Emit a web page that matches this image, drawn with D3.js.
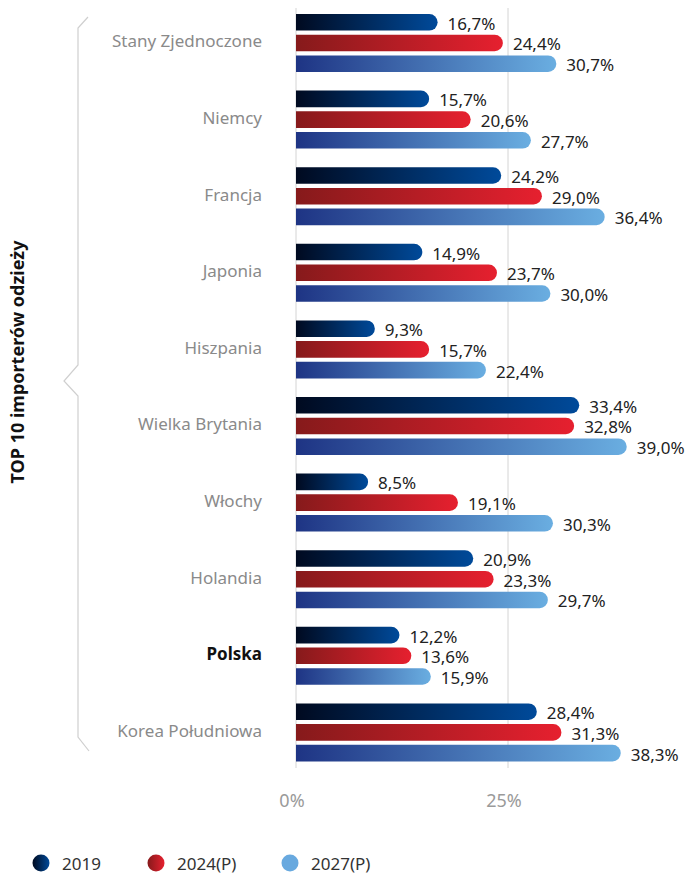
<!DOCTYPE html>
<html>
<head>
<meta charset="utf-8">
<script src="https://cdn.jsdelivr.net/npm/d3@7"></script>
<style>
  body { margin: 0; background: #fff; }
  svg { display: block; font-family: "Noto Sans", "Open Sans", sans-serif; }
</style>
</head>
<body>
<div id="chart"></div>
<script>
const countries = ["Stany Zjednoczone", "Niemcy", "Francja", "Japonia", "Hiszpania",
  "Wielka Brytania", "Włochy", "Holandia", "Polska", "Korea Południowa"];
const seriesNames = ["2019", "2024(P)", "2027(P)"];
const values2019 = [16.7, 15.7, 24.2, 14.9, 9.3, 33.4, 8.5, 20.9, 12.2, 28.4];
const values2024 = [24.4, 20.6, 29.0, 23.7, 15.7, 32.8, 19.1, 23.3, 13.6, 31.3];
const values2027 = [30.7, 27.7, 36.4, 30.0, 22.4, 39.0, 30.3, 29.7, 15.9, 38.3];
const xTicks = [0, 25];
const highlight = "Polska";
const axisTitle = "TOP 10 importerów odzieży";

const width = 694, height = 873;
const seriesValues = [values2019, values2024, values2027];
const gradients = [
  ["#000a20", "#004a9a"],
  ["#861a1b", "#e6202f"],
  ["#1e3484", "#6aaee1"]
];
const legendFills = ["url(#grad0)", "url(#grad1)", "#68a9df"];

const svg = d3.select("#chart").append("svg")
  .attr("width", width).attr("height", height);

const defs = svg.append("defs");
gradients.forEach((g, i) => {
  const lg = defs.append("linearGradient").attr("id", "grad" + i)
    .attr("x1", "0%").attr("x2", "100%").attr("y1", "0%").attr("y2", "0%");
  lg.append("stop").attr("offset", "0%").attr("stop-color", g[0]);
  lg.append("stop").attr("offset", "100%").attr("stop-color", g[1]);
});

const x = d3.scaleLinear().domain([0, 25]).range([296, 508]);
const y = d3.scaleBand().domain(countries).range([14, 761.4]).paddingInner(0.243).paddingOuter(0);
const yInner = d3.scaleBand().domain(seriesNames).range([0, y.bandwidth()]).paddingInner(0.2);

// gridlines
svg.append("g").selectAll("line").data(xTicks).join("line")
  .attr("x1", d => x(d)).attr("x2", d => x(d))
  .attr("y1", 8).attr("y2", 768)
  .attr("stroke", "#d4d4d4").attr("stroke-width", 1);

svg.append("g").selectAll("text").data(xTicks).join("text")
  .attr("x", d => x(d) - 4).attr("y", 800)
  .attr("text-anchor", "middle").attr("dominant-baseline", "central")
  .attr("font-size", "18px").attr("fill", "#9a9a9a")
  .text(d => d + "%");

// bars: square left, round right end
function barPath(v, y0, h) {
  const x0 = x(0), x1 = x(v), r = h / 2;
  return `M${x0},${y0}H${x1 - r}A${r},${r} 0 0 1 ${x1},${y0 + r}A${r},${r} 0 0 1 ${x1 - r},${y0 + h}H${x0}Z`;
}

const groups = svg.append("g").selectAll("g").data(countries).join("g")
  .attr("transform", d => `translate(0,${y(d)})`);

seriesNames.forEach((s, si) => {
  groups.append("path")
    .attr("d", (d, i) => barPath(seriesValues[si][i], yInner(s), yInner.bandwidth()))
    .attr("fill", `url(#grad${si})`);
  groups.append("text")
    .attr("x", (d, i) => x(seriesValues[si][i]) + 10)
    .attr("y", yInner(s) + yInner.bandwidth() / 2 + 1)
    .attr("dominant-baseline", "central")
    .attr("font-size", "17px").attr("fill", "#222")
    .text((d, i) => seriesValues[si][i].toFixed(1).replace(".", ",") + "%");
});

// category labels
groups.append("text")
  .attr("x", 262).attr("y", y.bandwidth() / 2 - 2)
  .attr("text-anchor", "end").attr("dominant-baseline", "central")
  .attr("font-size", "17px")
  .attr("font-weight", d => d === highlight ? "bold" : "normal")
  .attr("fill", d => d === highlight ? "#111" : "#8a8a8a")
  .text(d => d);

// brace
svg.append("path")
  .attr("d", "M88,17L78,28V365L64,381L78,396V737L89,751")
  .attr("fill", "none").attr("stroke", "#cfcfcf").attr("stroke-width", 1.2);

svg.append("text")
  .attr("transform", "translate(17,362) rotate(-90)")
  .attr("text-anchor", "middle").attr("dominant-baseline", "central")
  .attr("font-size", "18px").attr("font-weight", "bold").attr("fill", "#111")
  .text(axisTitle);

// legend
const legendX = [41, 156, 290];
const legend = svg.append("g").selectAll("g").data(seriesNames).join("g")
  .attr("transform", (d, i) => `translate(${legendX[i]},863)`);
legend.append("circle").attr("r", 8.5).attr("fill", (d, i) => legendFills[i]);
legend.append("text")
  .attr("x", 21).attr("y", 0)
  .attr("dominant-baseline", "central")
  .attr("font-size", "17px").attr("fill", "#333")
  .text(d => d);
</script>
</body>
</html>
